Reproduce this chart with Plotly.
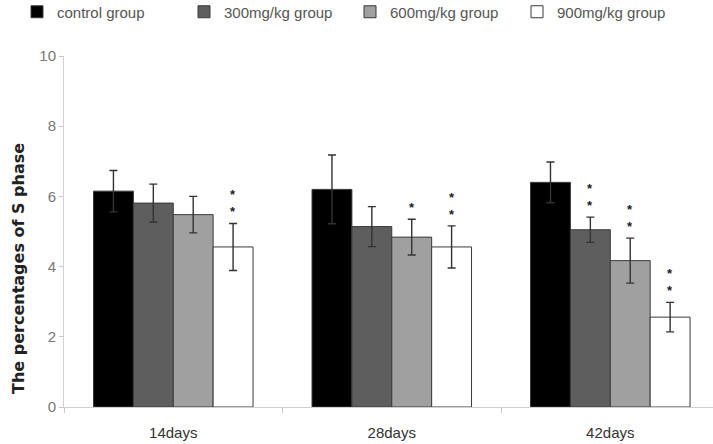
import plotly.graph_objects as go

categories = ["14days", "28days", "42days"]
groups = ["control group", "300mg/kg group", "600mg/kg group", "900mg/kg group"]
colors = ["#000000", "#5e5e5e", "#a0a0a0", "#ffffff"]

control = [6.15, 6.20, 6.40]
mg300 = [5.81, 5.14, 5.05]
mg600 = [5.48, 4.84, 4.17]
mg900 = [4.56, 4.56, 2.56]

control_err = [0.59, 0.98, 0.58]
mg300_err = [0.54, 0.57, 0.36]
mg600_err = [0.52, 0.51, 0.64]
mg900_err = [0.67, 0.60, 0.42]

control_sig = ["", "", ""]
mg300_sig = ["", "", "**"]
mg600_sig = ["", "*", "**"]
mg900_sig = ["**", "**", "**"]

y_title = "The percentages of S phase"

values = [control, mg300, mg600, mg900]
errors = [control_err, mg300_err, mg600_err, mg900_err]
sigs = [control_sig, mg300_sig, mg600_sig, mg900_sig]

W, H = 713, 444
L, R, T, B = 64, 0, 56, 37
bargap = 0.27
legend_ids = ["legend", "legend2", "legend3", "legend4"]
legend_left_px = [17, 184, 350, 517]

fig = go.Figure()
for name, col, v, e, lid in zip(groups, colors, values, errors, legend_ids):
    fig.add_trace(go.Bar(
        x=categories, y=v, name=name, legend=lid,
        marker=dict(color=col, line=dict(color="#3a3a3a", width=1)),
        error_y=dict(type="data", array=e, visible=True, color="#333333",
                     thickness=1.4, width=4),
    ))

n = len(groups)
w = (1 - bargap) / n
annotations = []
for gi in range(n):
    for ci in range(len(categories)):
        s = sigs[gi][ci]
        if not s:
            continue
        annotations.append(dict(
            x=ci + (gi - (n - 1) / 2) * w, xref="x",
            y=values[gi][ci] + errors[gi][ci], yref="y",
            text="<b>" + "<br>".join(list(s)) + "</b>", showarrow=False,
            yanchor="bottom", yshift=2,
            font=dict(family="Liberation Sans, Arial", size=13, color="#222222"),
        ))

plot_w = W - L - R
plot_h = H - T - B
annotations.append(dict(
    text="<b>%s</b>" % y_title, textangle=-90, showarrow=False,
    xref="paper", yref="paper",
    x=(18 - L) / plot_w, y=(H - B - 269) / plot_h,
    xanchor="center", yanchor="middle",
    font=dict(family="DejaVu Sans, Open Sans", size=16, color="#222222"),
))

legends = {}
for lid, lx in zip(legend_ids, legend_left_px):
    legends[lid] = dict(
        orientation="h", xref="container", yref="container",
        x=lx / W, y=1 - 12 / H, xanchor="left", yanchor="middle",
        font=dict(family="Liberation Sans Narrow, Liberation Sans, Arial", size=15, color="#555555"),
        itemclick=False, bgcolor="rgba(0,0,0,0)",
    )

fig.update_layout(
    width=W, height=H,
    margin=dict(l=L, r=R, t=T, b=B, autoexpand=False),
    barmode="group", bargap=bargap, bargroupgap=0,
    plot_bgcolor="white", paper_bgcolor="white",
    font=dict(family="Liberation Sans, Arial", color="#555555"),
    annotations=annotations,
    showlegend=True,
    xaxis=dict(
        type="category", range=[-0.5, 2.47],
        showline=True, linecolor="#d0d0d0", linewidth=1,
        ticks="outside", tickson="boundaries", ticklen=5, tickcolor="#c8c8c8",
        tickfont=dict(family="Liberation Sans Narrow, Liberation Sans, Arial", size=15, color="#333333"),
        ticklabelstandoff=12,
        showgrid=False,
    ),
    yaxis=dict(
        range=[0, 10], tickvals=[0, 2, 4, 6, 8, 10],
        showline=True, linecolor="#d0d0d0", linewidth=1,
        ticks="outside", ticklen=4, tickcolor="#c8c8c8",
        tickfont=dict(family="Liberation Sans Narrow, Liberation Sans, Arial", size=15, color="#777777"),
        showgrid=False, zeroline=False,
    ),
    **legends,
)

fig.write_html(
    "out.html",
    config={"displayModeBar": False},
    post_script="document.body.style.margin='0px';document.body.style.overflow='hidden';",
)
